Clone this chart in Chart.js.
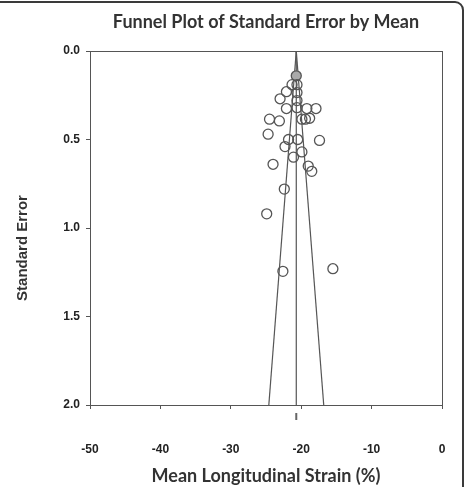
<!DOCTYPE html>
<html>
<head>
<meta charset="utf-8">
<script src="https://cdn.jsdelivr.net/npm/chart.js@4"></script>
<style>
  html, body { margin: 0; padding: 0; background: #fff; }
  #wrap { width: 467px; height: 487px; position: relative; }
</style>
</head>
<body>
<div id="wrap"><canvas id="funnel"></canvas></div>
<script>
// study estimates
const meanStrain = [-20.7, -21.3, -20.6, -22.1, -20.6, -23.0, -20.6, -22.1, -20.6, -19.2,
                    -17.9, -24.5, -23.1, -19.9, -19.4, -18.8, -24.7, -21.8, -20.5, -17.4,
                    -22.3, -19.9, -21.1, -24.0, -19.0, -18.5, -22.4, -24.9, -22.6, -15.5];
const stdError   = [0.14, 0.19, 0.19, 0.23, 0.235, 0.27, 0.28, 0.325, 0.32, 0.325,
                    0.325, 0.385, 0.395, 0.385, 0.385, 0.38, 0.47, 0.5, 0.5, 0.505,
                    0.54, 0.57, 0.6, 0.64, 0.65, 0.68, 0.78, 0.92, 1.245, 1.23];

// pooled mean and funnel limits (x at SE = 0 and SE = 2)
const pooledMean = -20.7;
const funnelSE = [0, 2];
const funnelLeft = [-20.7, -24.6];
const funnelRight = [-20.7, -16.8];

const xTicks = [-50, -40, -30, -20, -10, 0];
const yTicks = [0, 0.5, 1.0, 1.5, 2.0];

const titleText = 'Funnel Plot of Standard Error by Mean';
const xTitle = 'Mean Longitudinal Strain (%)';
const yTitle = 'Standard Error';

const ink = '#555';

function pairs(xs, ys) {
    return xs.map((x, i) => ({x: x, y: ys[i]}));
}

// title, y title, plot box and the outer rounded frame
const decor = {
    id: 'decor',
    afterDraw(chart) {
        const c = chart.ctx;
        const a = chart.chartArea;
        c.save();
        c.strokeStyle = ink;
        c.lineWidth = 1;
        c.strokeRect(a.left + 0.5, a.top + 0.5, a.right - a.left, a.bottom - a.top);

        c.strokeStyle = '#3a3a3a';
        c.lineWidth = 2;
        c.beginPath();
        c.moveTo(-5, 2);
        c.lineTo(455, 2);
        c.arcTo(463, 2, 463, 10, 8);
        c.lineTo(463, 495);
        c.stroke();

        c.fillStyle = '#333';
        c.font = 'bold 18px Lato';
        c.textAlign = 'center';
        c.textBaseline = 'middle';
        c.fillText(titleText, (a.left + a.right) / 2, 22);

        c.font = 'bold 15px "Liberation Sans"';
        c.translate(23, 248);
        c.rotate(-Math.PI / 2);
        c.fillText(yTitle, 0, 0);
        c.restore();
    }
};

new Chart(document.getElementById('funnel'), {
    type: 'scatter',
    data: {
        datasets: [
            {
                label: 'Studies',
                data: pairs(meanStrain, stdError),
                pointRadius: 5,
                pointHoverRadius: 5,
                borderWidth: 1.3,
                borderColor: ink,
                backgroundColor: (ctx) => ctx.dataIndex === 0 ? '#aaaaaa' : 'rgba(0,0,0,0)'
            },
            {
                label: 'Lower limit',
                data: pairs(funnelLeft, funnelSE),
                showLine: true, pointRadius: 0, borderColor: ink, borderWidth: 1.2
            },
            {
                label: 'Upper limit',
                data: pairs(funnelRight, funnelSE),
                showLine: true, pointRadius: 0, borderColor: ink, borderWidth: 1.2
            },
            {
                label: 'Mean',
                data: pairs([pooledMean, pooledMean], funnelSE),
                showLine: true, pointRadius: 0, borderColor: ink, borderWidth: 1.2
            },
            {
                // little mark under the axis
                label: 'Mean marker',
                data: pairs([pooledMean, pooledMean], [2.045, 2.085]),
                showLine: true, pointRadius: 0, borderColor: '#666', borderWidth: 2,
                clip: false
            }
        ]
    },
    options: {
        responsive: true,
        maintainAspectRatio: false,
        animation: false,
        layout: { padding: { top: 51, right: 25, left: 0, bottom: 0 } },
        plugins: {
            legend: { display: false },
            tooltip: { enabled: false },
            title: { display: false }
        },
        scales: {
            x: {
                type: 'linear',
                min: -50,
                max: 0,
                afterBuildTicks: (scale) => { scale.ticks = xTicks.map(v => ({value: v})); },
                afterFit: (scale) => {
                    scale.height = 82;
                    // tick padding would otherwise eat into the right side
                    scale.paddingLeft = 0;
                    scale.paddingRight = 0;
                },
                grid: { drawOnChartArea: false, tickLength: 4, color: ink },
                border: { display: true, color: ink },
                ticks: {
                    color: '#222',
                    padding: 33,
                    font: { family: '"Liberation Sans"', weight: 'bold', size: 12 }
                },
                title: {
                    display: true,
                    text: xTitle,
                    color: '#333',
                    font: { family: 'Lato', weight: 'bold', size: 18 },
                    padding: { top: 0, bottom: 0 }
                }
            },
            y: {
                type: 'linear',
                reverse: true,
                min: 0,
                max: 2,
                afterBuildTicks: (scale) => { scale.ticks = yTicks.map(v => ({value: v})); },
                afterFit: (scale) => { scale.width = 90; },
                grid: { drawOnChartArea: false, tickLength: 4, color: ink },
                border: { display: true, color: ink },
                ticks: {
                    color: '#222',
                    padding: 6,
                    callback: (v) => Number(v).toFixed(1),
                    font: { family: '"Liberation Sans"', weight: 'bold', size: 12 }
                }
            }
        }
    },
    plugins: [decor]
});
</script>
</body>
</html>
